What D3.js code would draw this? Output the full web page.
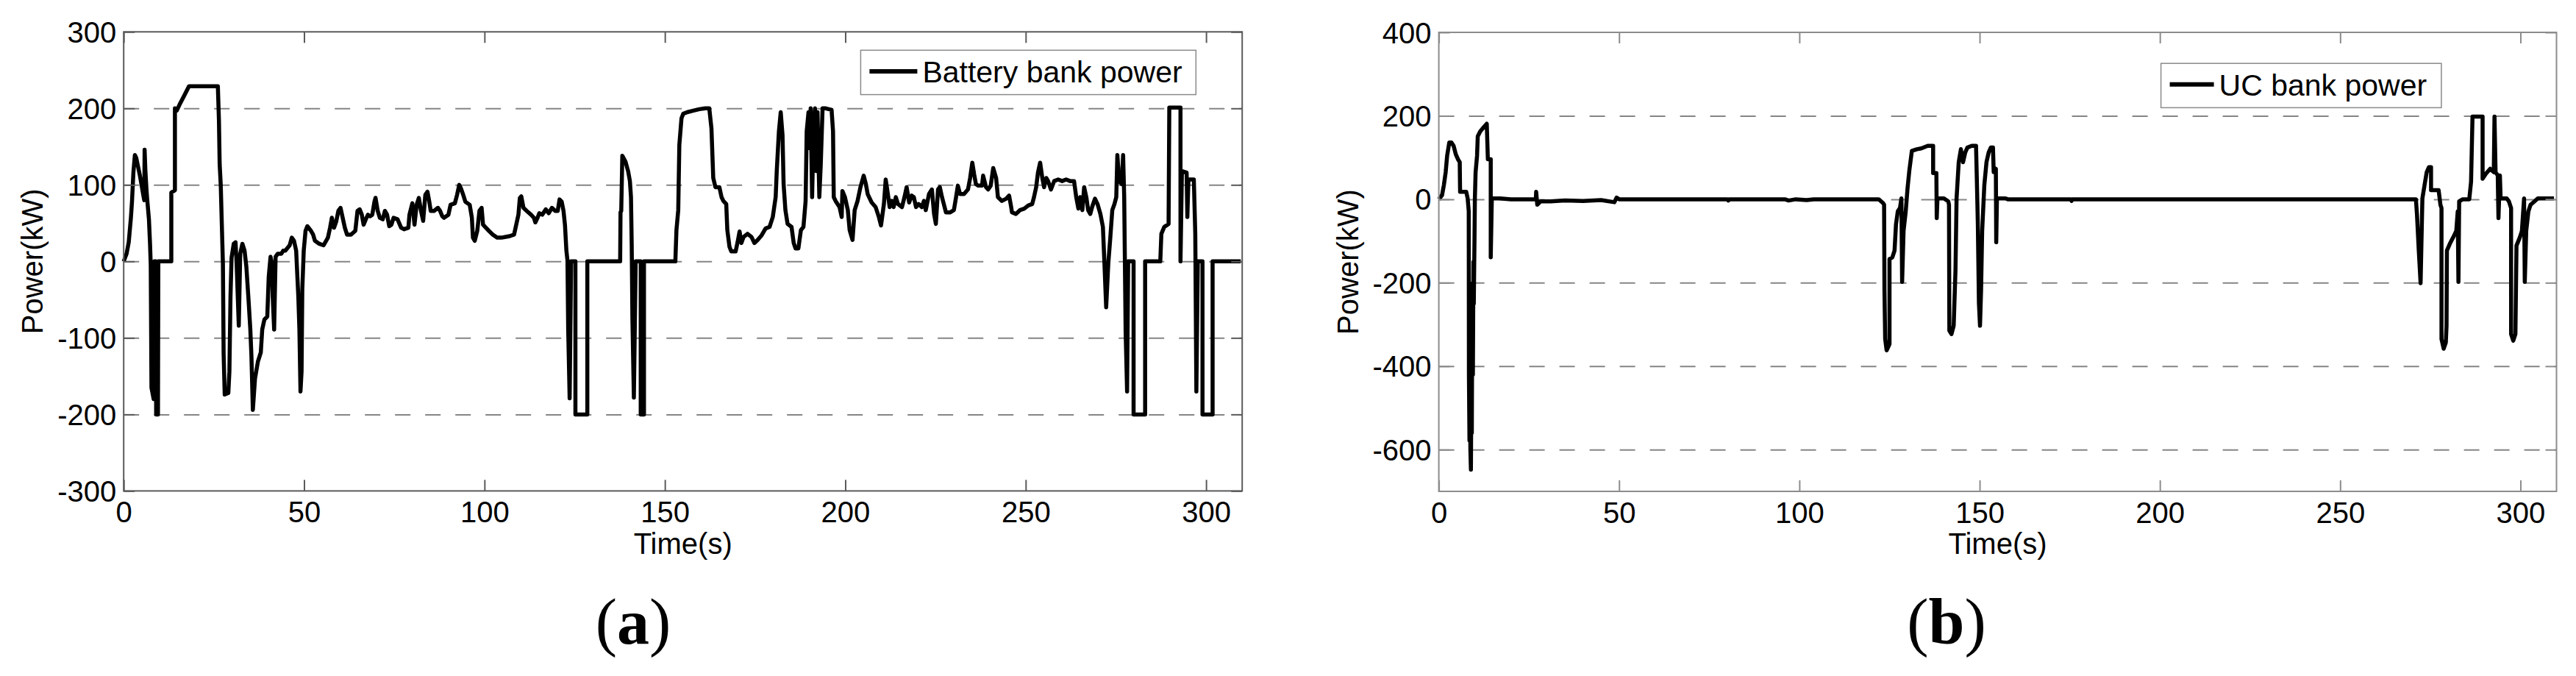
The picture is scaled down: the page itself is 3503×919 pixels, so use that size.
<!DOCTYPE html>
<html>
<head>
<meta charset="utf-8">
<script src="https://cdn.jsdelivr.net/npm/d3@7/dist/d3.min.js"></script>
<style>
  html, body { margin: 0; padding: 0; background: #fff; }
  svg { display: block; }
</style>
</head>
<body>
<svg id="chart" width="3503" height="919"></svg>
<script>
// ---------------- DATA ----------------
const timeTicks = [0, 50, 100, 150, 200, 250, 300];
const powerTicksA = [-300, -200, -100, 0, 100, 200, 300];
const powerTicksB = [-600, -400, -200, 0, 200, 400];

const legendA = "Battery bank power";
const legendB = "UC bank power";
const xTitle = "Time(s)";
const yTitle = "Power(kW)";

// Battery bank power (panel a): [time s, power kW]
const batteryPower = [
[0,0],[0.4,5],[0.8,10],[1.4,25],[2.0,57],[2.3,78],[2.7,117],[3.1,139],[3.5,135],[4.5,112],[5.5,85],[5.7,80],[5.8,146],[6.0,120],[6.3,95],[6.5,82],[7.0,55],[7.3,23],[7.5,-5],[7.7,-165],[8.3,-180],[8.5,0],[8.9,0],[9.0,-200],[9.5,-200],[9.6,0],
[13.2,0],[13.2,90],[14.2,93],[14.2,200],[14.7,197],[15.5,205],[16.7,216],[18.1,229],[26.1,229],[26.4,184],[26.6,127],[26.9,100],[27.2,48],[27.5,-3],[27.7,-121],[28.0,-174],[29.0,-172],[29.3,-144],[29.6,-46],[29.9,5],[30.5,23],[31.0,25],[31.3,-3],[31.9,-84],[32.3,10],[32.9,23],[33.5,14],[34.0,-7],[34.6,-50],[35.1,-89],[35.4,-123],[35.8,-194],[36.4,-153],[37.2,-131],[38.0,-119],[38.4,-89],[39.0,-76],[39.8,-72],[40.2,-20],[40.7,6],[41.1,-3],[41.3,-46],[41.7,-89],[42.1,6],[42.7,10],[43.7,10],[44.2,14],[44.8,14],[46.0,21],[46.6,31],[47.2,27],[47.8,14],[48.4,-46],[48.7,-89],[49.0,-170],[49.3,-144],[49.5,-37],[49.9,14],
[50.4,40],[50.9,46],[51.9,40],[52.5,35],[53.0,27],[54.2,23],[55.4,21],[56.6,31],[57.2,44],[57.7,57],[58.3,44],[58.9,52],[59.5,66],[60.1,70],[60.7,57],[61.3,44],[61.9,35],[63.0,35],[64.2,40],[64.8,66],[65.4,68],[66.0,61],[66.5,48],[67.1,55],[67.7,61],[68.3,59],[68.9,61],[69.5,78],[69.8,83],[70.4,66],[71.0,57],[71.8,55],[72.4,66],[73.0,61],[73.6,46],[74.2,48],[74.8,57],[75.9,55],[76.9,44],[77.7,42],[78.9,44],[79.2,61],[80.0,76],[80.6,48],[81.2,74],[81.8,83],[82.4,66],[83.0,53],[83.6,87],[84.2,91],[84.7,78],[85.1,66],[86.0,66],[87.1,70],[87.7,66],[88.3,59],[88.8,57],[90.0,61],[90.6,74],[91.8,76],[92.4,87],[93.0,100],[93.5,95],[94.1,87],[94.7,78],[95.9,74],[96.5,57],[96.8,31],[97.3,27],[98.0,40],[98.6,66],[99.2,70],[99.6,48],
[100.4,44],[101.2,40],[102.3,35],[103.5,31],[104.7,31],[105.9,32],[107.0,33],[108.2,35],[108.8,48],[109.4,61],[109.8,83],[110.2,85],[110.8,70],[111.7,66],[112.9,61],[113.7,57],[114.1,51],[114.7,57],[115.2,63],[116.0,61],[117.0,68],[117.8,63],[118.7,70],[119.6,66],[120.3,66],[120.8,81],[121.4,78],[121.9,66],[122.3,48],[122.7,14],[123.0,1],[123.2,-89],[123.6,-179],[123.8,-89],[124.0,0],[125.2,0],[125.2,-200],[128.5,-200],[128.5,0],
[137.6,0],[137.7,64],[137.9,66],[138.2,138],[139.1,130],[139.8,118],[140.3,105],[140.6,84],[140.8,22],[141.0,-75],[141.4,-178],[141.9,0],[143.3,0],[143.3,-200],[144.2,-200],[144.2,0],
[152.9,0],[153.2,41],[153.7,67],[154.0,152],[154.6,187],[155.1,193],[156.2,195],[157.9,197],[159.6,199],[161.2,200],[162.3,200],[162.9,174],[163.4,109],[164.0,97],[165.1,97],[165.7,84],[166.2,79],[167.0,75],[167.3,41],[167.9,19],[168.4,13],[169.6,13],[170.1,24],[170.7,39],[171.2,24],[171.8,32],[172.9,36],[174.0,32],[174.8,24],[175.7,28],[176.8,34],[177.9,43],[179.0,45],[179.9,58],[180.7,84],[181.0,118],[181.6,170],[182.1,195],[182.6,165],[182.9,101],[183.4,67],[184.0,49],[185.1,45],[185.7,24],[186.2,17],[187.0,17],[187.7,41],[188.4,45],[189.0,79],[189.3,170],[189.8,195],[190.1,148],[190.4,200],[190.8,84],[191.2,170],[191.6,200],[192.0,118],[192.3,195],[192.8,84],[193.2,127],[193.7,200],[194.6,200],[196.2,198],[196.6,170],[196.8,84],[197.3,79],[198.4,71],[199.0,58],[199.2,92],[199.9,84],
[200.7,67],[201.2,41],[202.0,28],[202.6,67],[203.4,79],[204.2,97],[205.1,112],[205.7,101],[206.2,88],[207.3,77],[208.4,71],[209.3,58],[209.9,47],[210.7,75],[211.2,107],[211.8,88],[212.3,71],[212.9,79],[213.4,71],[214.0,84],[214.6,75],[215.7,71],[216.4,84],[217.0,97],[217.7,77],[218.4,86],[219.0,84],[219.6,71],[220.3,75],[221.2,71],[221.8,79],[222.3,67],[223.2,88],[224.0,94],[224.6,62],[225.1,49],[225.7,94],[226.2,97],[226.8,84],[227.3,75],[227.9,64],[229.0,64],[230.1,67],[230.7,84],[231.2,99],[231.8,88],[232.9,88],[234.0,94],[234.6,109],[235.2,129],[235.7,114],[236.2,101],[236.8,99],[237.9,99],[238.2,112],[239.0,97],[239.6,94],[240.3,99],[241.0,122],[241.8,109],[242.3,84],[243.4,79],[244.6,82],[245.4,86],[245.9,73],[246.2,64],[247.3,62],[248.4,67],[249.6,69],
[250.7,73],[251.8,75],[252.3,84],[252.9,97],[253.4,116],[254.0,129],[254.6,109],[255.1,97],[255.7,109],[256.2,105],[257.0,94],[257.9,105],[259.0,107],[260.1,105],[261.2,107],[262.3,105],[263.4,105],[264.0,84],[264.6,69],[265.1,84],[265.7,67],[266.2,97],[266.8,84],[267.3,67],[267.9,62],[268.4,71],[269.2,82],[269.9,75],[270.7,62],[271.4,45],[271.8,0],[272.3,-60],[272.9,-2],[273.4,28],[274.0,67],[274.6,75],[275.1,84],[275.4,139],[275.9,105],[276.6,101],[277.0,139],[277.3,84],[277.7,-92],[278.1,-170],[278.4,0],[279.9,0],[279.9,-200],[283.1,-200],[283.1,0],
[287.3,0],[287.6,36],[288.4,45],[289.6,49],[289.8,201],[292.9,201],[292.9,0],[293.3,118],[294.6,116],[294.8,58],[295.1,107],[296.6,107],[297.0,36],[297.3,-170],[297.7,0],[299.0,0],[299.0,-200],[301.8,-200],[301.8,0],[309.6,0]
];

// UC bank power (panel b): [time s, power kW]
const ucPower = [
[0,0],[0.2,2],[0.9,10],[1.4,34],[1.9,65],[2.3,104],[2.9,136],[3.5,136],[4.1,128],[4.7,108],[5.3,96],[5.8,89],[5.9,18],[7.6,18],[8.0,2],[8.3,-29],[8.35,-421],[8.5,-578],[8.65,-420],[8.75,-600],[8.9,-648],[9.05,-420],[9.15,-560],[9.3,-201],[9.45,-420],[9.6,-150],[9.7,-250],[9.9,-92],[10.0,2],[10.2,65],[10.6,104],[10.8,151],[11.5,163],[12.3,171],[13.3,181],[13.6,96],[14.4,96],[14.4,-139],[14.7,2],[17.0,2],[20.0,0],
[26.9,0],[27.0,18],[27.3,-13],[28.2,-5],[31.0,-5],[35.0,-3],[40.0,-4],[45.0,-2],[48.7,-7],[49.3,4],[50.0,0],[80.0,0],[80.3,-3],[80.6,0],[96.0,0],[97.0,-3],[99.0,0],[102.0,-2],[104.0,0],
[122.0,0],[123.2,-9],[123.5,-13],[123.6,-217],[123.8,-335],[124.2,-362],[125.0,-347],[125.0,-143],[125.8,-139],[126.4,-123],[126.8,-60],[127.3,-29],[127.9,-21],[128.3,2],[128.5,-198],[128.9,-76],[129.5,-29],[130.0,26],[130.5,69],[131.2,116],[132.6,120],[133.8,122],[135.6,128],[137.1,128],[137.1,63],[138.0,63],[138.1,-45],[138.3,2],[140.1,2],[141.3,-5],[141.5,-13],[141.6,-315],[142.2,-323],[142.8,-303],[143.3,-170],[143.6,2],[144.2,89],[144.8,120],[145.4,89],[146.0,112],[146.6,124],[147.8,128],[149.0,128],[149.2,57],[149.5,-60],[149.8,-249],[150.1,-303],[150.4,-217],[150.7,-76],[151.3,34],[151.9,89],[152.5,112],[153.1,124],[153.7,124],[153.9,65],[154.5,73],[154.6,-103],[154.8,2],[157.2,2],[157.8,0],
[175.3,0],[175.5,-4],[175.7,0],[271.0,0],[271.3,-37],[271.8,-123],[272.3,-201],[272.8,2],[273.4,34],[274.0,65],[274.6,77],[275.2,77],[275.2,22],[277.3,22],[277.8,-13],[278.1,-21],[278.1,-335],[278.7,-358],[279.3,-343],[279.5,-303],[279.6,-123],[280.4,-107],[281.3,-92],[282.2,-76],[282.6,-29],[282.8,-198],[283.0,-5],[284.0,0],[285.8,0],[286.3,42],[286.7,198],[289.5,198],[289.5,49],[290.4,61],[291.6,73],[292.6,65],[292.8,198],[293.1,65],[293.7,57],[293.9,-45],[294.3,57],[294.5,2],[296.2,2],[296.8,-5],[297.4,-21],[297.4,-323],[298.0,-339],[298.6,-323],[298.9,-111],[299.8,-92],[300.4,-76],[301.0,2],[301.2,-198],[301.6,-76],[302.2,-29],[302.8,-13],[303.9,-5],[304.8,2],[309.3,2]
];

// ---------------- DRAW ----------------
const svg = d3.select("#chart");
svg.append("rect").attr("width", 3503).attr("height", 919).attr("fill", "#fff");

const FONT = "'Liberation Sans', Arial, Helvetica, sans-serif";
const fmt = d => String(d); // plain hyphen-minus as in the original

function panel(cfg) {
  const x = d3.scaleLinear().domain([0, 310]).range([cfg.left, cfg.right]);
  const y = d3.scaleLinear().domain(cfg.yDomain).range([cfg.bottom, cfg.top]);
  const g = svg.append("g");
  const W = cfg.right - cfg.left, H = cfg.bottom - cfg.top;

  // dashed horizontal grid
  const inner = cfg.yTicks.filter(v => v > cfg.yDomain[0] && v < cfg.yDomain[1]);
  g.append("g")
    .attr("transform", `translate(${cfg.left},0)`)
    .call(d3.axisLeft(y).tickValues(inner).tickSize(-W).tickFormat(""))
    .call(s => s.select(".domain").remove())
    .call(s => s.selectAll("line").attr("stroke", "#858585").attr("stroke-width", 2).attr("stroke-dasharray", "21,20"));

  // data line
  const line = d3.line().x(d => x(d[0])).y(d => y(d[1]));
  g.append("path").datum(cfg.data)
    .attr("d", line).attr("fill", "none").attr("stroke", "#000")
    .attr("stroke-width", 5.5).attr("stroke-linejoin", "round").attr("stroke-linecap", "butt");

  // axes (inward ticks, box)
  const styleAxis = s => {
    s.select(".domain").remove();
    s.selectAll("line").attr("stroke", cfg.frame).attr("stroke-width", 2);
    s.selectAll("text").attr("font-family", FONT).attr("font-size", 40).attr("fill", "#000");
  };
  g.append("g").attr("transform", `translate(0,${cfg.bottom})`)
    .call(d3.axisBottom(x).tickValues(timeTicks).tickFormat(fmt).tickSizeInner(-15).tickSizeOuter(0).tickPadding(0))
    .call(styleAxis)
    .call(s => s.selectAll("text").attr("y", 42.5).attr("dy", 0));
  g.append("g").attr("transform", `translate(0,${cfg.top})`)
    .call(d3.axisTop(x).tickValues(timeTicks).tickSizeInner(-15).tickSizeOuter(0).tickFormat(""))
    .call(styleAxis);
  g.append("g").attr("transform", `translate(${cfg.left},0)`)
    .call(d3.axisLeft(y).tickValues(cfg.yTicks).tickFormat(fmt).tickSizeInner(-15).tickSizeOuter(0).tickPadding(0))
    .call(styleAxis)
    .call(s => s.selectAll("text").attr("x", -10).attr("dy", "0.35em"));
  g.append("g").attr("transform", `translate(${cfg.right},0)`)
    .call(d3.axisRight(y).tickValues(cfg.yTicks).tickSizeInner(-15).tickSizeOuter(0).tickFormat(""))
    .call(styleAxis);

  // frame
  g.append("rect").attr("x", cfg.left).attr("y", cfg.top).attr("width", W).attr("height", H)
    .attr("fill", "none").attr("stroke", cfg.frame).attr("stroke-width", 2);

  // axis titles
  g.append("text").attr("x", (cfg.left + cfg.right) / 2).attr("y", 753)
    .attr("text-anchor", "middle").attr("font-family", FONT).attr("font-size", 40).text(xTitle);
  g.append("text")
    .attr("transform", `translate(${cfg.left - 110},${(cfg.top + cfg.bottom) / 2}) rotate(-90)`)
    .attr("text-anchor", "middle").attr("font-family", FONT).attr("font-size", 40).text(yTitle);

  // legend
  const L = cfg.legend;
  g.append("rect").attr("x", L.x).attr("y", L.y).attr("width", L.w).attr("height", L.h)
    .attr("fill", "#fff").attr("stroke", "#8a8a8a").attr("stroke-width", 1.5);
  g.append("line").attr("x1", L.x + 12).attr("x2", L.x + 12 + L.line)
    .attr("y1", L.y + L.h / 2 - 1.5).attr("y2", L.y + L.h / 2 - 1.5)
    .attr("stroke", "#000").attr("stroke-width", 6);
  g.append("text").attr("x", L.x + 12 + L.line + 7).attr("y", L.y + L.h / 2 + 13.5)
    .attr("font-family", FONT).attr("font-size", 41).text(L.text);

  // sub-figure label
  const lab = g.append("text").attr("x", cfg.labelX).attr("y", 875)
    .attr("text-anchor", "middle").attr("font-family", "'Liberation Serif', 'Times New Roman', serif")
    .attr("font-size", 88);
  lab.append("tspan").text("(");
  lab.append("tspan").attr("font-weight", "bold").text(cfg.label);
  lab.append("tspan").text(")");
}

panel({
  left: 168.2, right: 1689.2, top: 43.3, bottom: 667.4,
  yDomain: [-300, 300], yTicks: powerTicksA, data: batteryPower, frame: "#5a5a5a",
  legend: { x: 1170.4, y: 68.3, w: 455.9, h: 60.3, line: 65, text: legendA },
  label: "a", labelX: 861
});
panel({
  left: 1956.6, right: 3476.5, top: 44, bottom: 668,
  yDomain: [-700, 400], yTicks: powerTicksB, data: ucPower, frame: "#8c8c8c",
  legend: { x: 2938.6, y: 86.2, w: 381.3, h: 60.2, line: 60, text: legendB },
  label: "b", labelX: 2647
});
</script>
</body>
</html>
